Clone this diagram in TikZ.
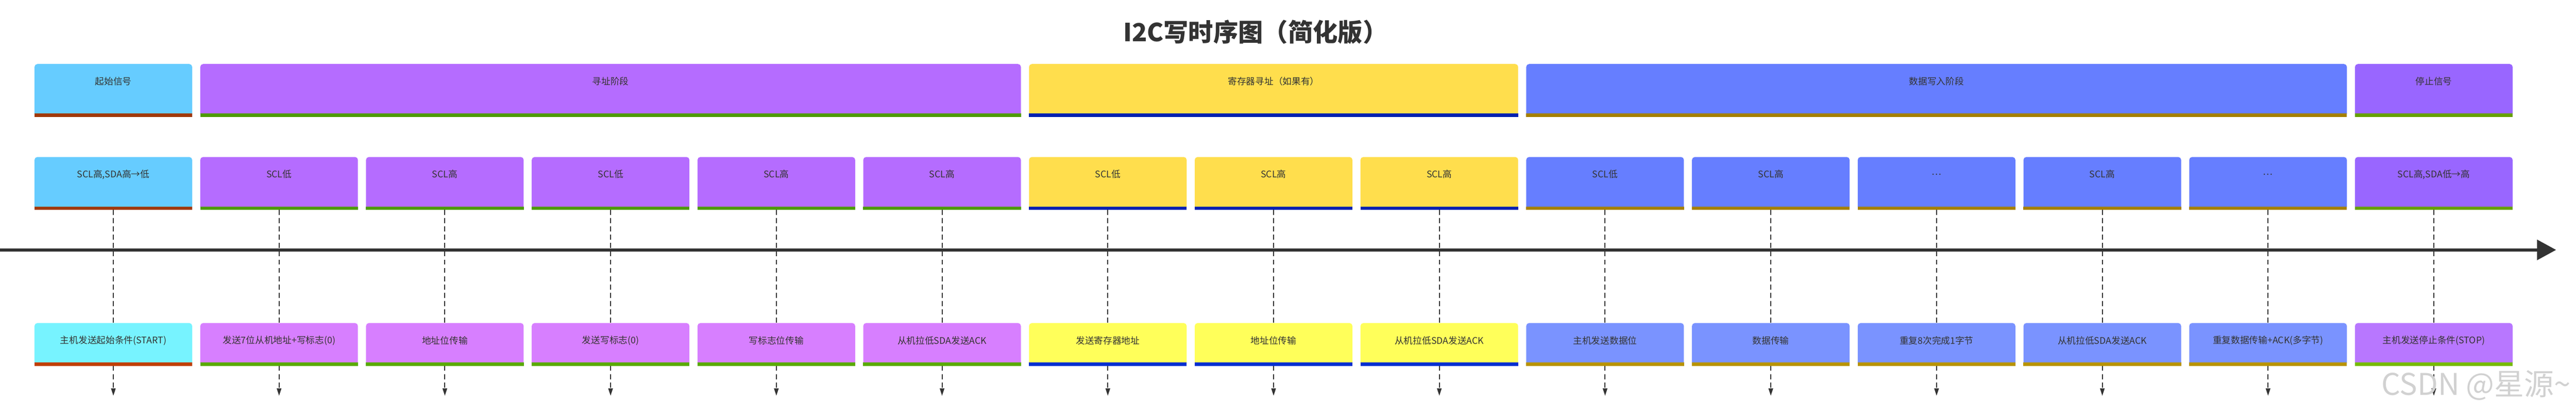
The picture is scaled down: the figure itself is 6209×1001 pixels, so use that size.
\documentclass[tikz,border=0pt]{standalone}
\usepackage{fontspec}
\setmainfont{Noto Sans CJK SC}
\usetikzlibrary{arrows.meta}
\definecolor{txt}{HTML}{333333}
\definecolor{cA}{HTML}{66CCFF}\definecolor{bA}{HTML}{A0390A}
\definecolor{cB}{HTML}{B56CFF}\definecolor{bB}{HTML}{4E9A06}
\definecolor{cC}{HTML}{FFDE4D}\definecolor{bC}{HTML}{0021B0}
\definecolor{cD}{HTML}{667EFF}\definecolor{bD}{HTML}{A58000}
\definecolor{cE}{HTML}{9966FF}\definecolor{bE}{HTML}{66A000}
\definecolor{lA}{HTML}{77F3FF}\definecolor{dA}{HTML}{C04000}
\definecolor{lB}{HTML}{D77FFF}\definecolor{dB}{HTML}{5AAA00}
\definecolor{lC}{HTML}{FFFF5A}\definecolor{dC}{HTML}{0030D0}
\definecolor{lD}{HTML}{7A93FF}\definecolor{dD}{HTML}{B89400}
\definecolor{lE}{HTML}{B877FF}\definecolor{dE}{HTML}{77BB00}
\tikzset{
  box/.style={rectangle,rounded corners=7bp,anchor=north west,inner sep=0pt,draw=none},
  lbl/.style={font=\fontsize{22bp}{26bp}\selectfont,text=txt},
  dashln/.style={draw=txt,line width=2.5bp,dash pattern=on 12bp off 8bp},
  tipln/.style={dashln,-{Triangle[length=18bp,width=11bp]}},
}
% \blkx{name}{x}{y}{w}{h}{fill}{bar}{text}
\newcommand{\blkx}[8]{%
  \node[box,fill=#6,minimum width=#4 bp,minimum height=#5 bp] (#1) at (#2,#3) {};
  \fill[#7] ([yshift=8bp]#1.south west) rectangle (#1.south east);
  \node[lbl] (#1t) at ([yshift=-42bp]#1.north) {#8};
}
\begin{document}
\begin{tikzpicture}[x=1bp,y=-1bp]
\useasboundingbox (0,0) rectangle (6209,1001);
\node[font=\fontsize{60bp}{66bp}\selectfont\bfseries,text=txt] (title) at (3026,77) {I2C写时序图（简化版）};
% top row
\blkx{t0}{83}{154}{380}{127}{cA}{bA}{起始信号}
\blkx{t1}{482.5}{154}{1978}{127}{cB}{bB}{寻址阶段}
\blkx{t2}{2480}{154}{1179}{127}{cC}{bC}{寄存器寻址（如果有）}
\blkx{t3}{3678.5}{154}{1978}{127}{cD}{bD}{数据写入阶段}
\blkx{t4}{5676}{154}{380}{127}{cE}{bE}{停止信号}
% timeline
\coordinate (tl0) at (0,602);
\coordinate (tl1) at (6161,602);
\draw[line width=7bp,draw=txt,-{Triangle[length=46bp,width=48bp]}] (tl0) -- (tl1);
% columns
\foreach \i/\c/\mt/\bt in {
 0/A/{SCL高,SDA高→低}/{主机发送起始条件(START)},
 1/B/{SCL低}/{发送7位从机地址+写标志(0)},
 2/B/{SCL高}/{地址位传输},
 3/B/{SCL低}/{发送写标志(0)},
 4/B/{SCL高}/{写标志位传输},
 5/B/{SCL高}/{从机拉低SDA发送ACK},
 6/C/{SCL低}/{发送寄存器地址},
 7/C/{SCL高}/{地址位传输},
 8/C/{SCL高}/{从机拉低SDA发送ACK},
 9/D/{SCL低}/{主机发送数据位},
 10/D/{SCL高}/{数据传输},
 11/D/{…}/{重复8次完成1字节},
 12/D/{SCL高}/{从机拉低SDA发送ACK},
 13/D/{…}/{重复数据传输+ACK(多字节)},
 14/E/{SCL高,SDA低→高}/{主机发送停止条件(STOP)}}{
  \pgfmathsetmacro{\xx}{83+399.5*\i}
  \blkx{m\i}{\xx}{378}{380}{127}{c\c}{b\c}{\mt}
  \blkx{b\i}{\xx}{778}{380}{103}{l\c}{d\c}{\bt}
  \coordinate (e\i) at ([yshift=-72bp]b\i.south);
  \draw[dashln] (m\i.south) -- (b\i.north);
  \draw[tipln] (b\i.south) -- (e\i);
}
\node[font=\fontsize{72bp}{80bp}\selectfont,text=black!18,anchor=south east] (wm) at (6200,968) {CSDN @星源\textasciitilde};
\end{tikzpicture}
\end{document}
